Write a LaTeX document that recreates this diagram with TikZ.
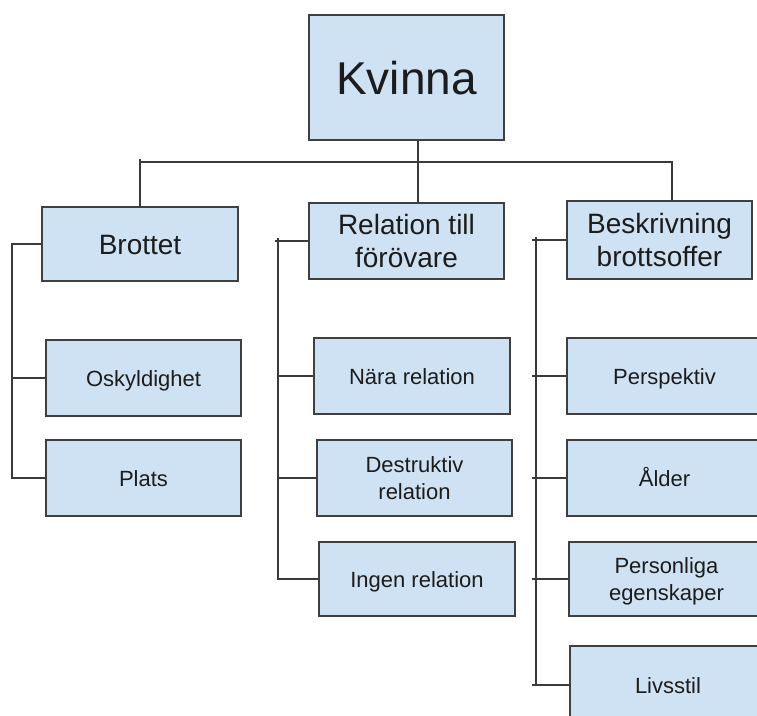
\documentclass[tikz,border=0pt]{standalone}
\usepackage{fontspec}
\setmainfont{Liberation Sans}
\definecolor{boxfill}{HTML}{CFE2F3}
\definecolor{boxline}{HTML}{3F3F3F}
\definecolor{linec}{HTML}{3A3A3A}
\definecolor{textc}{HTML}{1C1C1C}
\begin{document}
\begin{tikzpicture}[x=1pt,y=-1pt,
  box/.style={draw=boxline,fill=boxfill,line width=1.5pt,inner sep=0pt,text=textc},
  conn/.style={draw=linec,line width=1.5pt},
  big/.style={font=\fontsize{46}{52}\selectfont,text height=33pt,text depth=0pt},
  mid/.style={font=\fontsize{28}{33}\selectfont,align=center,text depth=0pt},
  midone/.style={mid,text height=20.4pt},
  sml/.style={font=\fontsize{22}{27}\selectfont,align=center,text depth=0pt},
  smlone/.style={sml,text height=16pt}]
\useasboundingbox (0,0) rectangle (757,715);
\clip (0,0) rectangle (757,715);
\fill[white] (0,0) rectangle (757,715);

% top
\node[box,big,minimum width=195pt,minimum height=125pt] (kv) at (406.5,77.5) {Kvinna};

% second level
\node[box,midone,minimum width=196pt,minimum height=74pt] (brottet) at (140,244) {Brottet};
\node[box,mid,minimum width=195pt,minimum height=76pt] (rel) at (406.5,241) {Relation till\\förövare};
\node[box,mid,minimum width=185pt,minimum height=78pt] (besk) at (659.5,240) {Beskrivning\\brottsoffer};

% Brottet children
\node[box,smlone,minimum width=195pt,minimum height=76pt] (osk) at (143.5,378) {Oskyldighet};
\node[box,smlone,minimum width=195pt,minimum height=76pt] (plats) at (143.5,478) {Plats};

% Relation children
\node[box,smlone,minimum width=196pt,minimum height=76pt] (nara) at (412,376) {Nära relation};
\node[box,sml,minimum width=195pt,minimum height=76pt] (destr) at (414.5,478) {Destruktiv\\relation};
\node[box,smlone,minimum width=196pt,minimum height=74pt] (ingen) at (417,579) {Ingen relation};

% Beskrivning children
\node[box,smlone,minimum width=195pt,minimum height=76pt] (persp) at (664.5,376) {Perspektiv};
\node[box,smlone,minimum width=195pt,minimum height=76pt] (alder) at (664.5,478) {Ålder};
\node[box,sml,minimum width=195pt,minimum height=74pt] (pers) at (666.5,579) {Personliga\\egenskaper};
\node[box,smlone,minimum width=196pt,minimum height=78pt] (livs) at (668,685) {Livsstil};

% top connectors
\coordinate (busL) at (140,162);
\coordinate (busR) at (672,162);
\draw[conn] ([xshift=11.5pt]kv.south) -- ([xshift=11.5pt]rel.north);
\draw[conn] (brottet.north) -- ([yshift=3pt]busL);
\draw[conn] (busL) -- (busR) -- (busR |- besk.north);

% Brottet group
\coordinate (bL) at (12,0);
\draw[conn] (brottet.west) -| (bL |- plats.west) -- (plats.west);
\draw[conn] (bL |- osk.west) -- (osk.west);

% Relation group
\coordinate (rL) at (278,0);
\draw[conn] (rel.west) -- ([xshift=-3pt]rL |- rel.west);
\draw[conn] ([yshift=3pt]rL |- rel.west) -- (rL |- ingen.west) -- (ingen.west);
\draw[conn] (rL |- nara.west) -- (nara.west);
\draw[conn] (rL |- destr.west) -- (destr.west);

% Beskrivning group
\coordinate (sL) at (536,0);
\draw[conn] (besk.west) -- ([xshift=-4pt]sL |- besk.west);
\draw[conn] ([yshift=3pt]sL |- besk.west) -- (sL |- livs.west);
\draw[conn] ([xshift=-4pt]sL |- persp.west) -- (persp.west);
\draw[conn] ([xshift=-4pt]sL |- alder.west) -- (alder.west);
\draw[conn] ([xshift=-4pt]sL |- pers.west) -- (pers.west);
\draw[conn] ([xshift=-4pt]sL |- livs.west) -- (livs.west);
\end{tikzpicture}
\end{document}
